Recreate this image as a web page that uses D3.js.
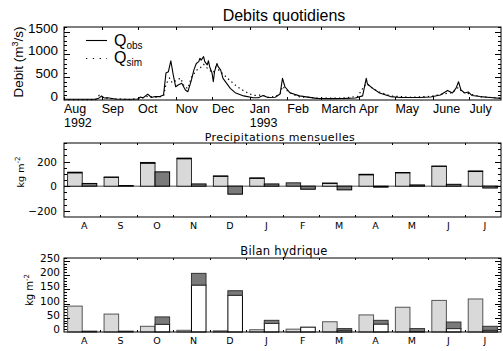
<!DOCTYPE html>
<html><head><meta charset="utf-8">
<script src="https://cdn.jsdelivr.net/npm/d3@7"></script>
<style>
body{margin:0;background:#fff}
svg{display:block}
</style></head>
<body><svg id="c" width="503" height="351"></svg>
<script>
// ---------- DATA ----------
const obsDays   = [0,26,29,31,33,36,42,54,61,63,65,69,72,75,79,82,84,86,88,90,92,94,97,100,102,105,107,109,111,112,113,115,116,118,119,120,122,123,124,126,127,129,131,134,137,141,148,156,160,164,168,174,178,180,182,186,194,208,219,232,240,246,249,250,254,260,269,277,293,302,310,316,320,323,325,327,330,333,336,343,351,360];
const obsValues = [15,15,45,88,45,50,22,15,22,65,45,130,55,75,75,110,590,620,860,550,290,330,365,220,180,440,660,800,840,915,875,950,840,770,860,730,585,400,620,800,730,660,475,365,255,160,90,50,50,100,55,60,130,475,290,160,90,35,30,35,45,90,475,350,260,155,75,55,55,65,110,210,155,260,400,220,155,175,100,75,55,35];
const simDays   = [0,26,29,31,38,54,63,69,75,82,84,87,89,92,96,99,102,105,109,112,115,118,120,123,125,129,133,137,141,145,149,153,157,163,168,174,178,180,184,188,194,211,227,236,242,246,249,252,259,269,285,302,314,320,325,328,335,343,360];
const simValues = [10,10,100,50,30,10,40,80,60,80,350,480,380,420,480,300,250,500,650,700,780,700,650,600,720,620,520,420,330,250,190,130,100,110,60,80,130,300,200,130,70,40,40,60,80,250,360,300,180,90,60,80,140,160,280,170,130,70,40];
const monthNames = ["Aug","Sep","Oct","Nov","Dec","Jan","Feb","March","Apr","May","June","July"];
const monthStartDays = [0,31,61,92,122,153,184,212,243,273,304,334];
const yearLabels = ["1992","1993"];
const yearDays = [0,153];
const flowTicks = [0,500,1000,1500];

const barMonths = ["A","S","O","N","D","J","F","M","A","M","J","J"];
// Precipitations mensuelles
const precipMain = [108,70,186,222,78,62,0,22,92,108,160,118];
const precipCap  = [6,5,7,6,6,6,27,4,5,3,4,6];
const precipSecond = [22,5,116,18,-65,18,-25,-30,-8,10,15,-15];
const precipTicks = [-200,0,200];
// Bilan hydrique
const bilanFirst = [91,63,20,6,4,8,10,36,60,87,111,116];
const bilanLow   = [0,0,27,165,129,30,17,6,28,2,12,6];
const bilanHigh  = [3,3,26,41,16,11,0,6,13,10,23,14];
const bilanTicks = [0,50,100,150,200,250];

// ---------- DRAW ----------
const svg = d3.select("#c");
const SANS = "'Liberation Sans', Arial, sans-serif";
const HERSHEY = "'DejaVu Sans', sans-serif";
const L = 64, R = 501;

function frame(top, bottom){
  svg.append("rect").attr("x",L).attr("y",top).attr("width",R-L).attr("height",bottom-top)
    .attr("fill","none").attr("stroke","#000").attr("stroke-width",1);
}
function yTicks(y, values, len, top, bottom){
  const g = svg.append("g").attr("stroke","#000").attr("stroke-width",1);
  values.forEach(v=>{
    const yy = Math.round(y(v))+0.5;
    if (yy < top || yy > bottom) return;
    g.append("line").attr("x1",L).attr("x2",L+len).attr("y1",yy).attr("y2",yy);
    g.append("line").attr("x1",R).attr("x2",R-len).attr("y1",yy).attr("y2",yy);
  });
}
function xTicksPos(xs, top, bottom, len){
  const g = svg.append("g").attr("stroke","#000").attr("stroke-width",1);
  xs.forEach(x=>{
    const xx = Math.round(x)+0.5;
    g.append("line").attr("x1",xx).attr("x2",xx).attr("y1",top).attr("y2",top+len);
    g.append("line").attr("x1",xx).attr("x2",xx).attr("y1",bottom).attr("y2",bottom-len);
  });
}

// ===== Panel 1 =====
const P1 = {top:27,bottom:100};
const x1 = d3.scaleLinear().domain([0,360]).range([L,R]);
const y1 = d3.scaleLinear().domain([0,1600]).range([P1.bottom,P1.top]);

svg.append("text").attr("x",284).attr("y",21).attr("text-anchor","middle")
  .attr("font-family",SANS).attr("font-size",16).text("Debits quotidiens");

const line1 = d3.line().x(d=>x1(d[0])).y(d=>y1(d[1]));
svg.append("path").datum(simDays.map((d,i)=>[d,simValues[i]]))
  .attr("d",line1).attr("fill","none").attr("stroke","#000").attr("stroke-width",1.2)
  .attr("stroke-dasharray","1.3,3.2");
svg.append("path").datum(obsDays.map((d,i)=>[d,obsValues[i]]))
  .attr("d",line1).attr("fill","none").attr("stroke","#000").attr("stroke-width",1.1)
  .attr("stroke-linejoin","round");

frame(P1.top,P1.bottom);
yTicks(y1, d3.range(0,1601,500), 6, P1.top, P1.bottom);
yTicks(y1, d3.range(0,1601,100), 3, P1.top, P1.bottom);
xTicksPos(monthStartDays.map(d=>x1(d)), P1.top, P1.bottom, 3);

flowTicks.forEach(v=>{
  svg.append("text").attr("x",58).attr("y",y1(v)+1).attr("text-anchor","end")
    .attr("font-family",SANS).attr("font-size",13.5).text(v);
});
monthNames.forEach((m,i)=>{
  svg.append("text").attr("x",x1(monthStartDays[i])).attr("y",112.5)
    .attr("font-family",SANS).attr("font-size",12.5).text(m);
});
yearLabels.forEach((t,i)=>{
  svg.append("text").attr("x",x1(yearDays[i])).attr("y",127)
    .attr("font-family",SANS).attr("font-size",12.5).text(t);
});
const yl = svg.append("text").attr("transform","translate(23,62) rotate(-90)")
  .attr("text-anchor","middle").attr("font-family",SANS).attr("font-size",13.5);
yl.append("tspan").text("Debit (m");
yl.append("tspan").attr("font-size",9).attr("dy",-5).text("3");
yl.append("tspan").attr("dy",5).text("/s)");

// legend
svg.append("line").attr("x1",86).attr("x2",107).attr("y1",40.5).attr("y2",40.5)
  .attr("stroke","#000").attr("stroke-width",1.1);
svg.append("line").attr("x1",86).attr("x2",107).attr("y1",58.5).attr("y2",58.5)
  .attr("stroke","#000").attr("stroke-width",1.2).attr("stroke-dasharray","1.3,5.5");
const lq1 = svg.append("text").attr("x",114).attr("y",46).attr("font-family",SANS).attr("font-size",16);
lq1.append("tspan").text("Q");
lq1.append("tspan").attr("font-size",10).attr("dy",3).text("obs");
const lq2 = svg.append("text").attr("x",114).attr("y",63).attr("font-family",SANS).attr("font-size",16);
lq2.append("tspan").text("Q");
lq2.append("tspan").attr("font-size",10).attr("dy",3).text("sim");

// ===== shared bar x scale =====
const xb = d3.scaleBand().domain(d3.range(12)).range([L,R]).paddingInner(0.2).paddingOuter(0.1);
const hw = xb.bandwidth()/2;
const slotEdges = d3.range(1,12).map(i=>L+i*(R-L)/12);

// ===== Panel 2 =====
const P2 = {top:143,bottom:217};
const y2 = d3.scaleLinear().domain([-250,350]).range([P2.bottom,P2.top]);
svg.append("text").attr("x",280).attr("y",140.5).attr("text-anchor","middle")
  .attr("font-family",HERSHEY).attr("font-size",11).attr("letter-spacing",0.4).text("Precipitations mensuelles");

svg.append("line").attr("x1",L).attr("x2",R).attr("y1",y2(0)).attr("y2",y2(0))
  .attr("stroke","#888").attr("stroke-width",1.5);
const g2 = svg.append("g");
barMonths.forEach((m,i)=>{
  const x = xb(i);
  g2.append("rect").attr("x",x).attr("width",hw)
    .attr("y",y2(precipMain[i])).attr("height",y2(0)-y2(precipMain[i]))
    .attr("fill","#d9d9d9").attr("stroke","#000").attr("stroke-width",0.8);
  g2.append("rect").attr("x",x).attr("width",hw)
    .attr("y",y2(precipMain[i]+precipCap[i])).attr("height",y2(precipMain[i])-y2(precipMain[i]+precipCap[i]))
    .attr("fill","#808080").attr("stroke","#000").attr("stroke-width",0.8);
  const v = precipSecond[i];
  g2.append("rect").attr("x",x+hw).attr("width",hw)
    .attr("y",y2(Math.max(0,v))).attr("height",Math.abs(y2(v)-y2(0)))
    .attr("fill","#7a7a7a").attr("stroke","#000").attr("stroke-width",1);
});
frame(P2.top,P2.bottom);
yTicks(y2, d3.range(-200,351,200), 6, P2.top, P2.bottom);
yTicks(y2, d3.range(-250,351,50), 3, P2.top, P2.bottom);
xTicksPos(slotEdges, P2.top, P2.bottom, 2);
precipTicks.forEach(v=>{
  svg.append("text").attr("x",57).attr("y",y2(v)+4).attr("text-anchor","end")
    .attr("font-family",HERSHEY).attr("font-size",10.5).text(v===-200?"\u2212200":v);
});
barMonths.forEach((m,i)=>{
  svg.append("text").attr("x",xb(i)+hw+2).attr("y",229).attr("text-anchor","middle")
    .attr("font-family",HERSHEY).attr("font-size",9.5).text(m);
});
const kl2 = svg.append("text").attr("transform","translate(24,172) rotate(-90)")
  .attr("text-anchor","middle").attr("font-family",HERSHEY).attr("font-size",9.5);
kl2.append("tspan").text("kg m");
kl2.append("tspan").attr("font-size",7).attr("dy",-4).text("-2");

// ===== Panel 3 =====
const P3 = {top:258,bottom:332};
const y3 = d3.scaleLinear().domain([0,260]).range([P3.bottom,P3.top]);
svg.append("text").attr("x",284).attr("y",255).attr("text-anchor","middle")
  .attr("font-family",HERSHEY).attr("font-size",11.5).attr("letter-spacing",0.3).text("Bilan hydrique");
const g3 = svg.append("g");
barMonths.forEach((m,i)=>{
  const x = xb(i);
  g3.append("rect").attr("x",x).attr("width",hw)
    .attr("y",y3(bilanFirst[i])).attr("height",y3(0)-y3(bilanFirst[i]))
    .attr("fill","#d9d9d9").attr("stroke","#555").attr("stroke-width",1);
  if (bilanLow[i]>0)
  g3.append("rect").attr("x",x+hw).attr("width",hw)
    .attr("y",y3(bilanLow[i])).attr("height",y3(0)-y3(bilanLow[i]))
    .attr("fill","#fff").attr("stroke","#000").attr("stroke-width",1);
  if (bilanHigh[i]>0)
  g3.append("rect").attr("x",x+hw).attr("width",hw)
    .attr("y",y3(bilanLow[i]+bilanHigh[i])).attr("height",y3(bilanLow[i])-y3(bilanLow[i]+bilanHigh[i]))
    .attr("fill","#7a7a7a").attr("stroke","#333").attr("stroke-width",1);
});
frame(P3.top,P3.bottom);
yTicks(y3, d3.range(0,251,50), 6, P3.top, P3.bottom);
yTicks(y3, d3.range(0,261,10), 3, P3.top, P3.bottom);
xTicksPos(slotEdges, P3.top, P3.bottom, 2);
bilanTicks.forEach(v=>{
  svg.append("text").attr("x",60).attr("y",y3(v)+1).attr("text-anchor","end")
    .attr("font-family",HERSHEY).attr("font-size",10.5).text(v);
});
barMonths.forEach((m,i)=>{
  svg.append("text").attr("x",xb(i)+hw+2).attr("y",344).attr("text-anchor","middle")
    .attr("font-family",HERSHEY).attr("font-size",9.5).text(m);
});
const kl3 = svg.append("text").attr("transform","translate(33,290) rotate(-90)")
  .attr("text-anchor","middle").attr("font-family",HERSHEY).attr("font-size",10);
kl3.append("tspan").text("kg m");
kl3.append("tspan").attr("font-size",7).attr("dy",-4).text("-2");
</script></body></html>
